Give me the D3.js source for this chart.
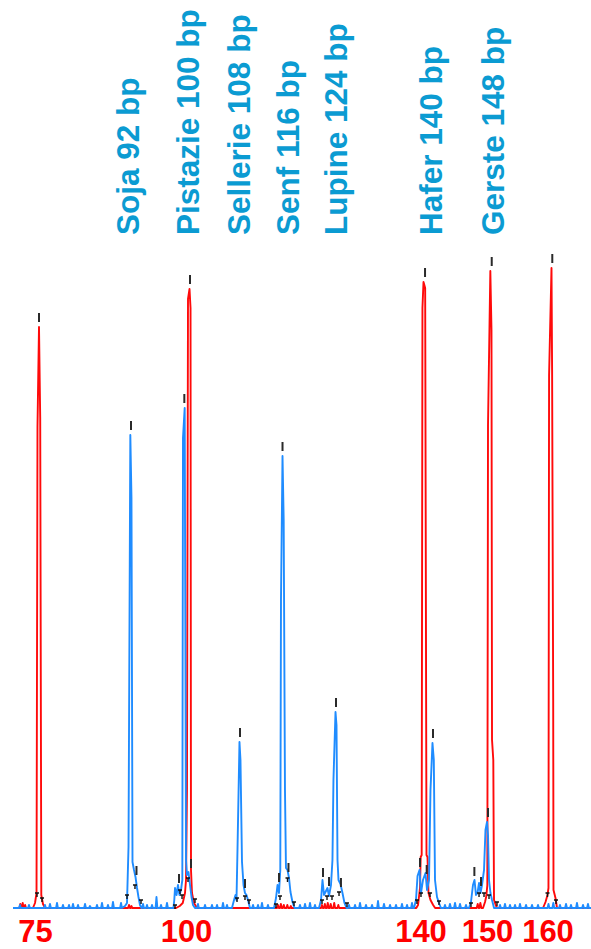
<!DOCTYPE html>
<html>
<head>
<meta charset="utf-8">
<script src="https://cdn.jsdelivr.net/npm/d3@7/dist/d3.min.js"></script>
<style>
  html, body { margin: 0; padding: 0; background: #fff; }
  svg { display: block; }
</style>
</head>
<body>
<div id="chart"></div>
<script>
// size standard (red) bp ticks
const sizeTicks = [75, 100, 140, 150, 160];

// target labels (blue)
const targetNames = ["Soja", "Pistazie", "Sellerie", "Senf", "Lupine", "Hafer", "Gerste"];
const targetSizes = [92, 100, 108, 116, 124, 140, 148];
const labelAt = [89.65, 99.67, 108.36, 116.63, 124.82, 140.9, 150.25];

// trace range (bp)
const traceStart = 70.7, traceEnd = 166.53;

// red trace: [bp, rfu]
const redPeaks = [
    [74.0, 0], [74.34, 50], [74.59, 150], [74.75, 4810], [75.0, 5810], [75.2, 4900], [75.38, 130], [75.66, 40], [76.0, 0],
    [97.7, 0], [98.3, 20], [98.8, 50], [99.17, 150], [99.34, 280], [99.5, 1200], [99.67, 6090], [99.92, 6190], [100.09, 6000], [100.17, 380], [100.34, 150], [100.68, 50], [101.2, 0],
    [138.6, 0], [138.9, 30], [139.23, 200], [139.35, 510], [139.52, 530], [139.65, 6000], [139.83, 6260], [140.1, 6200], [140.3, 530], [140.45, 510], [140.6, 150], [140.9, 80], [141.3, 30], [141.6, 0],
    [148.8, 0], [149.1, 60], [149.3, 120], [149.45, 230], [149.55, 4830], [149.9, 6370], [150.08, 5780], [150.17, 1680], [150.38, 1480], [150.5, 80], [150.83, 20], [151.1, 0],
    [158.6, 0], [159.01, 60], [159.34, 130], [159.5, 200], [159.6, 5330], [160.0, 6400], [160.1, 5380], [160.28, 2080], [160.33, 180], [160.66, 100], [160.91, 0]
];
const redNoise = [
    [71.9, 40], [72.3, 50], [72.7, 30], [89.9, 30], [90.3, 20],
    [115.0, 30], [115.5, 40], [116.0, 30], [116.6, 30], [117.2, 20],
    [122.5, 30], [123.0, 40], [123.5, 50], [124.0, 40], [124.6, 50], [125.3, 30],
    [148.0, 40], [148.4, 50]
];

// blue trace: [bp, rfu]
const bluePeaks = [
    // Soja
    [89.24, 20], [89.57, 50], [89.82, 610], [90.12, 4730], [90.31, 4100], [90.48, 460], [90.73, 380], [90.98, 310], [91.23, 200], [91.47, 110], [91.72, 30], [91.97, 0],
    // Pistazie
    [97.25, 0], [97.4, 80], [97.52, 200], [97.77, 130], [98.01, 230], [98.26, 130], [98.51, 180], [98.73, 280], [98.84, 4700], [99.12, 5000], [99.34, 480], [99.5, 330], [99.75, 360], [100.0, 230], [100.26, 110], [100.51, 30], [100.85, 0],
    // Sellerie
    [107.16, 0], [107.51, 80], [107.76, 130], [107.93, 80], [108.1, 580], [108.44, 1660], [108.61, 1480], [108.87, 460], [109.13, 230], [109.38, 150], [109.64, 130], [109.89, 80], [110.23, 0],
    // Senf
    [114.33, 0], [114.67, 100], [114.93, 230], [115.18, 150], [115.4, 380], [115.52, 3080], [115.78, 4520], [115.98, 3880], [116.2, 1180], [116.37, 400], [116.63, 380], [116.89, 300], [117.14, 160], [117.48, 60], [117.83, 0],
    // Lupine
    [122.0, 0], [122.35, 80], [122.6, 280], [122.86, 130], [123.11, 160], [123.45, 200], [123.71, 120], [124.05, 230], [124.3, 480], [124.47, 1280], [124.82, 1960], [124.99, 1830], [125.16, 480], [125.33, 280], [125.67, 240], [126.01, 150], [126.35, 50], [126.7, 0],
    // Hafer
    [138.21, 0], [138.55, 80], [138.81, 320], [139.15, 380], [139.4, 150], [139.74, 280], [140.15, 350], [140.38, 180], [140.68, 280], [140.9, 1180], [141.2, 1650], [141.4, 1480], [141.58, 280], [141.88, 110], [142.18, 50], [142.48, 0],
    // Gerste
    [146.69, 0], [146.99, 60], [147.29, 230], [147.52, 280], [147.74, 130], [147.97, 150], [148.2, 250], [148.42, 150], [148.65, 230], [148.95, 380], [149.17, 780], [149.4, 860], [149.55, 730], [149.7, 280], [149.92, 150], [150.17, 80], [150.5, 0]
];
const blueNoise = [
    [71.85, 30], [73.34, 30], [75.99, 30], [76.82, 40], [77.98, 50], [78.97, 30], [79.97, 30], [80.63, 40],
    [81.46, 30], [82.62, 40], [83.44, 20], [84.6, 30], [85.43, 50], [86.42, 30], [87.25, 60], [88.58, 50],
    [92.22, 40], [92.88, 30], [93.71, 30], [94.45, 110], [95.2, 30], [96.19, 50],
    [101.36, 40], [102.56, 30], [103.75, 30], [104.61, 30], [105.63, 50], [106.31, 30],
    [110.75, 30], [111.6, 30], [112.28, 50], [113.3, 30],
    [118.76, 30], [119.62, 40], [120.47, 50], [121.32, 30],
    [127.12, 30], [128.15, 30], [129.0, 50], [130.02, 30], [131.05, 30], [132.07, 70], [133.09, 40],
    [134.12, 30], [135.14, 30], [136.16, 40], [137.02, 30], [137.87, 50],
    [143.08, 30], [143.83, 40], [144.59, 50], [145.34, 40], [146.24, 30],
    [151.49, 30], [152.31, 40], [153.14, 30], [153.97, 30], [154.79, 40], [155.79, 30], [156.78, 30], [157.77, 30],
    [159.5, 40], [160.3, 50], [161.4, 30], [162.4, 40], [163.22, 30], [164.21, 50], [165.21, 30], [166.03, 40]
];

// peak calls: [bp, rfu of peak top]
const peakCalls = [
    [75.0, 5810], [100.0, 6190], [140.08, 6260], [150.12, 6370], [160.13, 6400],
    [90.23, 4730], [99.06, 5000], [108.53, 1660], [115.78, 4520], [124.9, 1960], [141.28, 1650], [149.55, 860],
    [91.14, 280], [98.18, 200], [100.17, 350], [109.38, 150], [115.18, 210], [116.8, 310],
    [122.69, 260], [123.71, 170], [125.75, 160], [139.23, 360], [140.33, 290], [147.5, 270], [148.5, 170]
];
// bin edge markers near baseline: [bp, rfu]
const binMarks = [
    [74.67, 150], [75.5, 100], [89.57, 130], [90.89, 230], [91.89, 80],
    [97.52, 30], [98.34, 180], [98.68, 130], [99.67, 300], [100.85, 90],
    [108.02, 100], [109.38, 120], [110.06, 80],
    [114.67, 40], [115.35, 120], [116.63, 300], [117.74, 60],
    [122.52, 80], [123.37, 120], [124.22, 120], [125.42, 160], [126.78, 50],
    [138.72, 80], [139.4, 150], [140.83, 150], [142.18, 70],
    [146.99, 50], [148.2, 150], [148.95, 150], [149.7, 130], [150.99, 60],
    [159.34, 150], [160.74, 80]
];

const width = 591, height = 949;

const svg = d3.select("#chart")
    .append("svg")
    .attr("width", width)
    .attr("height", height)
    .attr("viewBox", "0 0 " + width + " " + height);

const x = d3.scaleLinear()
    .domain(sizeTicks)
    .range([39, 190, 424.5, 491, 551.5]);

const y = d3.scaleLinear()
    .domain([0, 6500])
    .range([908, 258]);

function buildTrace(points, noise) {
    const pts = points.slice();
    noise.forEach(function (d) {
        pts.push([d[0] - 0.15, 0], [d[0], d[1]], [d[0] + 0.15, 0]);
    });
    pts.push([traceStart, 0], [traceEnd, 0]);
    return pts.sort(function (a, b) { return a[0] - b[0]; });
}

const line = d3.line()
    .x(function (d) { return x(d[0]); })
    .y(function (d) { return y(d[1]); });

svg.append("path")
    .datum(buildTrace(redPeaks, redNoise))
    .attr("d", line)
    .attr("fill", "none")
    .attr("stroke", "#ff0a0a")
    .attr("stroke-width", 1.9)
    .attr("stroke-linejoin", "round");

svg.append("path")
    .datum(buildTrace(bluePeaks, blueNoise))
    .attr("d", line)
    .attr("fill", "none")
    .attr("stroke", "#1f8cff")
    .attr("stroke-width", 1.9)
    .attr("stroke-linejoin", "round");

// peak call ticks
svg.append("g")
    .selectAll("line")
    .data(peakCalls)
    .enter().append("line")
    .attr("x1", function (d) { return x(d[0]); })
    .attr("x2", function (d) { return x(d[0]); })
    .attr("y1", function (d) { return y(d[1]) - 14; })
    .attr("y2", function (d) { return y(d[1]) - 5; })
    .attr("stroke", "#2a2a2a")
    .attr("stroke-width", 2);

// bin markers
svg.append("g")
    .selectAll("path")
    .data(binMarks)
    .enter().append("path")
    .attr("d", function (d) {
        const px = x(d[0]), py = y(d[1]);
        return "M" + (px - 2) + "," + py + "h4M" + px + "," + py + "v4";
    })
    .attr("fill", "none")
    .attr("stroke", "#111")
    .attr("stroke-width", 1.4);

// size axis labels
const axis = svg.append("g")
    .attr("transform", "translate(-4,942)")
    .call(d3.axisBottom(x).tickValues(sizeTicks).tickSize(0).tickPadding(0));
axis.select(".domain").remove();
axis.selectAll("text")
    .attr("y", 0)
    .attr("dy", 0)
    .attr("fill", "#ff0000")
    .style("font-family", "Arial, 'Liberation Sans', sans-serif")
    .style("font-weight", "bold")
    .style("font-size", "31px");

// target labels
svg.append("g")
    .selectAll("text")
    .data(targetNames)
    .enter().append("text")
    .attr("transform", function (d, i) {
        return "translate(" + x(labelAt[i]) + ",235) rotate(-90)";
    })
    .attr("dy", "0.36em")
    .attr("fill", "#0b9bd2")
    .style("font-family", "Arial, 'Liberation Sans', sans-serif")
    .style("font-weight", "bold")
    .style("font-size", "31.5px")
    .text(function (d, i) { return d + " " + targetSizes[i] + " bp"; });
</script>
</body>
</html>
